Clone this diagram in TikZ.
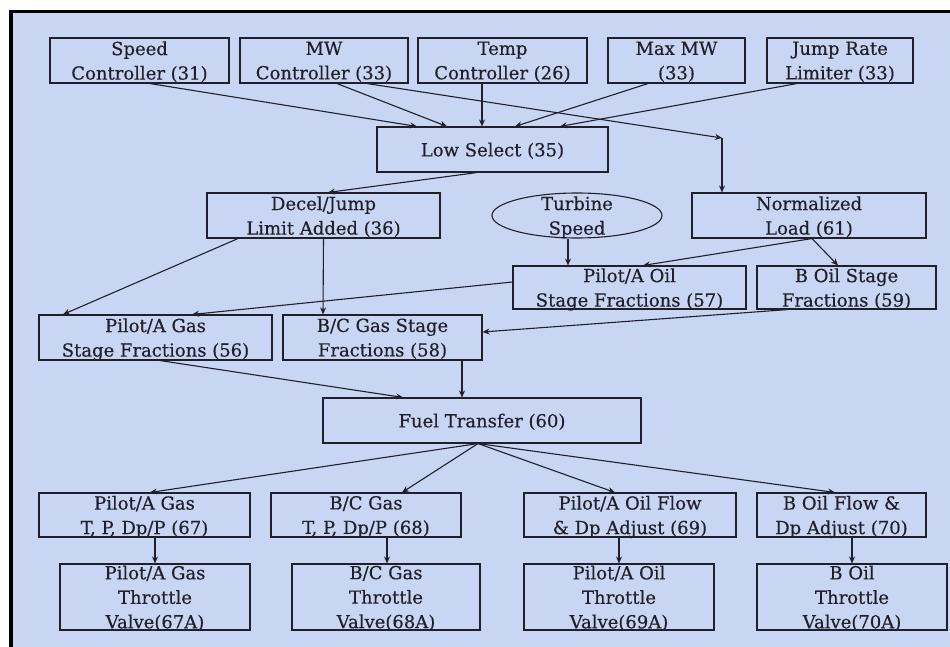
\documentclass[tikz,border=0pt]{standalone}
\usepackage{fontspec}
\setmainfont{DejaVu Serif}[FakeBold=0.4]
\usetikzlibrary{arrows.meta,shapes.geometric}
\definecolor{bg}{RGB}{201,214,243}
\definecolor{ink}{RGB}{32,32,44}
\begin{document}
\begin{tikzpicture}[x=1pt,y=-1pt,
  txt/.style={text=ink, align=center, font=\fontsize{18}{24.5}\selectfont, text depth=0pt},
  box/.style={txt, draw=ink, line width=1.1pt, rectangle, inner sep=0pt},
  oval/.style={draw=ink, line width=1.1pt, ellipse, inner sep=0pt},
  arr/.style={draw=ink, line width=1.1pt, -{Stealth[length=7pt,width=6pt]}},
]
\useasboundingbox (0,0) rectangle (950,647);
\fill[white] (0,0) rectangle (950,647);
\fill[bg] (13,13) rectangle (950,647);
\fill[black] (9,10) rectangle (950,13);
\fill[black] (9,10) rectangle (13,647);

% top row
\node[box, minimum width=179pt, minimum height=45pt] (speed) at (139.5,60.5) {Speed\\Controller (31)};
\node[box, minimum width=168pt, minimum height=45pt] (mw) at (324,60.5) {MW\\Controller (33)};
\node[box, minimum width=169pt, minimum height=45pt] (temp) at (502.5,60.5) {Temp\\Controller (26)};
\node[box, minimum width=137pt, minimum height=45pt] (maxmw) at (676.5,60.5) {Max MW\\(33)};
\node[box, minimum width=146pt, minimum height=45pt] (jump) at (840,60.5) {Jump Rate\\Limiter (33)};

\node[box, minimum width=231pt, minimum height=45pt] (low) at (492.5,149.5) {Low Select (35)};

\node[box, minimum width=233pt, minimum height=45pt] (decel) at (323.5,215.5) {Decel/Jump\\Limit Added (36)};
\node[oval, minimum width=170pt, minimum height=45pt, label={[txt]center:Turbine\\Speed}] (turb) at (577,215.5) {};
\node[box, minimum width=234pt, minimum height=45pt] (norm) at (809,215.5) {Normalized\\Load (61)};

\node[box, minimum width=233pt, minimum height=43pt] (oilA) at (629.5,287.5) {Pilot/A Oil\\Stage Fractions (57)};
\node[box, minimum width=179pt, minimum height=43pt] (oilB) at (846.5,287.5) {B Oil Stage\\Fractions (59)};

\node[box, minimum width=233pt, minimum height=45pt] (gasA) at (155.5,337.5) {Pilot/A Gas\\Stage Fractions (56)};
\node[box, minimum width=199pt, minimum height=45pt] (gasBC) at (382.5,337.5) {B/C Gas Stage\\Fractions (58)};

\node[box, minimum width=318pt, minimum height=45pt] (fuel) at (482,420.5) {Fuel Transfer (60)};

\node[box, minimum width=211pt, minimum height=44pt] (t67) at (144.5,515) {Pilot/A Gas\\T, P, Dp/P (67)};
\node[box, minimum width=190pt, minimum height=44pt] (t68) at (366,515) {B/C Gas\\T, P, Dp/P (68)};
\node[box, minimum width=212pt, minimum height=44pt] (t69) at (630,515) {Pilot/A Oil Flow\\\& Dp Adjust (69)};
\node[box, minimum width=169pt, minimum height=44pt] (t70) at (841.5,515) {B Oil Flow \&\\Dp Adjust (70)};

\node[box, minimum width=190pt, minimum height=66pt] (v67) at (155,597) {Pilot/A Gas\\Throttle\\Valve(67A)};
\node[box, minimum width=188pt, minimum height=66pt] (v68) at (386,597) {B/C Gas\\Throttle\\Valve(68A)};
\node[box, minimum width=190pt, minimum height=66pt] (v69) at (619,597) {Pilot/A Oil\\Throttle\\Valve(69A)};
\node[box, minimum width=190pt, minimum height=66pt] (v70) at (852,597) {B Oil\\Throttle\\Valve(70A)};

\coordinate (elb) at (722,138);

% connectors
\draw[arr] ([xshift=10.5pt]speed.south) -- ([xshift=-75.5pt]low.north);
\draw[arr] ([xshift=13pt]mw.south) -- ([xshift=-45.5pt]low.north);
\draw[arr] ([xshift=43pt]mw.south) -- (elb);
\draw[arr] (elb) -- ([xshift=-87pt]norm.north);
\draw[arr] ([xshift=-20.5pt]temp.south) -- ([xshift=-10.5pt]low.north);
\draw[arr] ([xshift=-28.5pt]maxmw.south) -- ([xshift=22.5pt]low.north);
\draw[arr] ([xshift=-43pt]jump.south) -- ([xshift=67.5pt]low.north);
\draw[arr] ([xshift=-15.5pt]low.south) -- ([xshift=4.5pt]decel.north);
\draw[arr] ([xshift=-85.5pt]decel.south) -- ([xshift=-92.5pt]gasA.north);
\draw[arr] (decel.south) -- ([xshift=-59.5pt]gasBC.north);
\draw[arr] ([yshift=5.5pt]oilA.west) -- ([xshift=36.5pt]gasA.north);
\draw[arr] ([xshift=-9pt]turb.south) -- ([xshift=-61.5pt]oilA.north);
\draw[arr] ([xshift=3pt]norm.south) -- ([xshift=13.5pt]oilA.north);
\draw[arr] ([xshift=3pt]norm.south) -- ([xshift=-8.5pt]oilB.north);
\draw[arr] ([xshift=-58.5pt]oilB.south) -- ([yshift=5.5pt]gasBC.east);
\draw[arr] ([xshift=4.5pt]gasA.south) -- ([xshift=-79pt]fuel.north);
\draw[arr] ([xshift=79.5pt]gasBC.south) -- ([xshift=-20pt]fuel.north);
\draw[arr] ([xshift=-4pt]fuel.south) -- ([xshift=5.5pt]t67.north);
\draw[arr] ([xshift=-4pt]fuel.south) -- ([xshift=36pt]t68.north);
\draw[arr] ([xshift=-4pt]fuel.south) -- ([xshift=-15pt]t69.north);
\draw[arr] ([xshift=-4pt]fuel.south) -- ([xshift=-6.5pt]t70.north);
\draw[arr] ([xshift=10.5pt]t67.south) -- (v67.north);
\draw[arr] ([xshift=21pt]t68.south) -- ([xshift=1pt]v68.north);
\draw[arr] ([xshift=-11pt]t69.south) -- (v69.north);
\draw[arr] ([xshift=10.5pt]t70.south) -- (v70.north);
\end{tikzpicture}
\end{document}
